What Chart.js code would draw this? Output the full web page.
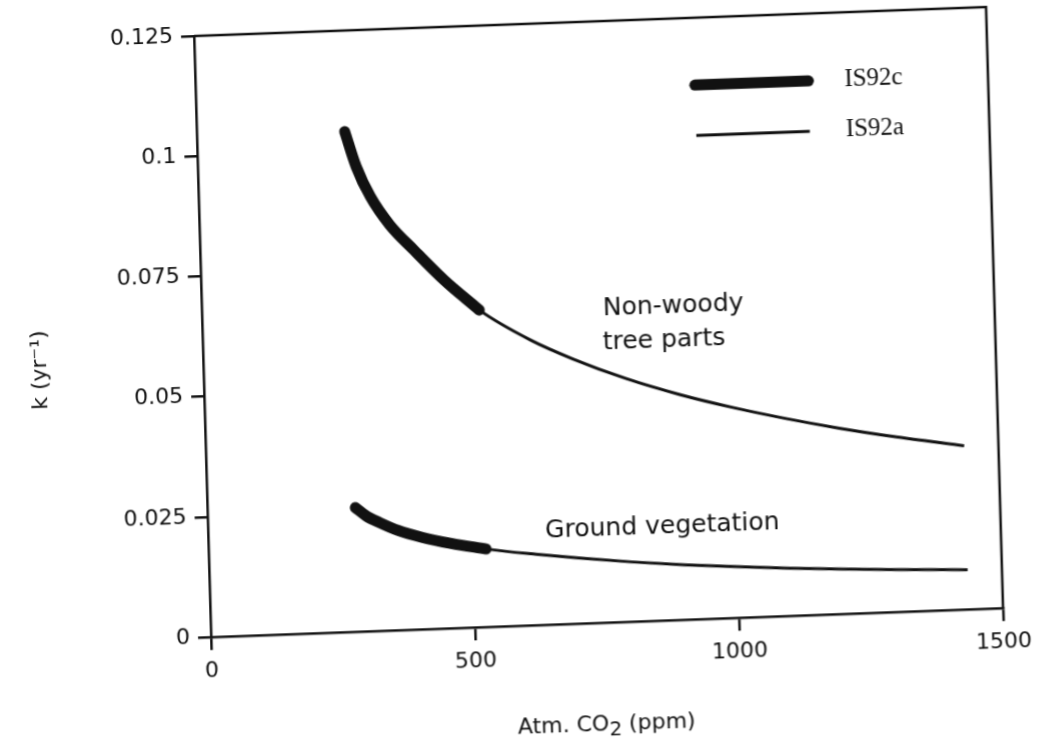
<!DOCTYPE html>
<html>
<head>
<meta charset="utf-8">
<script src="https://cdn.jsdelivr.net/npm/chart.js@4.4.0/dist/chart.umd.min.js"></script>
<style>
  html, body { margin: 0; padding: 0; background: #fff; overflow: hidden; }
  #wrap { position: relative; width: 1041px; height: 746px; overflow: hidden; }
  /* the printed figure sits slightly askew on the page */
  #chart { position: absolute; left: 0; top: 0; transform-origin: 211px 637px; transform: matrix(1, -0.0366, 0.0283, 1, 0, 0); }
</style>
</head>
<body>
<div id="wrap"><canvas id="chart" width="1041" height="800"></canvas></div>
<script>
// atmospheric CO2 (ppm) and decomposition rate k (yr-1)
const co2Ppm = [280, 300, 325, 360, 405, 460, 525, 620, 700, 800, 900, 1000, 1100, 1200, 1300, 1435];
const nonWoodyK = [0.104, 0.0966, 0.0903, 0.0843, 0.0788, 0.0724, 0.0659, 0.0593, 0.0550, 0.0505, 0.0468, 0.0437, 0.0410, 0.0386, 0.0365, 0.0340];
const groundVegK = [0.0258, 0.0240, 0.0225, 0.0207, 0.0191, 0.0176, 0.0162, 0.0147, 0.0136, 0.0124, 0.0114, 0.0106, 0.0099, 0.0093, 0.0088, 0.0082];
// IS92c stops at 525 ppm, IS92a runs the whole range
const is92cPoints = 7;

const xTicks = [0, 500, 1000, 1500];
const xTickLabels = ['0', '500', '1000', '1500'];
const yTicks = [0, 0.025, 0.05, 0.075, 0.1, 0.125];
const yTickLabels = ['0', '0.025', '0.05', '0.075', '0.1', '0.125'];

const ink = '#111';
const sans = '"DejaVu Sans", sans-serif';

function pts(ys, n) {
    return co2Ppm.slice(0, n).map((x, i) => ({ x: x, y: ys[i] }));
}

function thick(data) {
    return { data: data, borderColor: ink, borderWidth: 11, borderCapStyle: 'round', pointRadius: 0, cubicInterpolationMode: 'monotone', fill: false };
}
function thin(data) {
    return { data: data, borderColor: ink, borderWidth: 3, pointRadius: 0, cubicInterpolationMode: 'monotone', fill: false };
}

const figureText = {
    id: 'figureText',
    afterDatasetsDraw(chart) {
        const { ctx, chartArea: a, scales: { x, y } } = chart;
        ctx.save();
        ctx.strokeStyle = ink;
        ctx.fillStyle = ink;

        // top and right edges of the frame
        ctx.lineWidth = 2.5;
        ctx.beginPath();
        ctx.moveTo(a.left, a.top);
        ctx.lineTo(a.right, a.top);
        ctx.lineTo(a.right, a.bottom);
        ctx.stroke();

        // curve labels
        ctx.font = '25px ' + sans;
        ctx.textAlign = 'left';
        ctx.textBaseline = 'middle';
        ctx.fillText('Non-woody', x.getPixelForValue(759), y.getPixelForValue(0.0652));
        ctx.fillText('tree parts', x.getPixelForValue(757), y.getPixelForValue(0.0582));
        ctx.fillText('Ground vegetation', x.getPixelForValue(638), y.getPixelForValue(0.0195));

        // legend
        const legend = [
            { label: 'IS92c', width: 11, y: 0.1110 },
            { label: 'IS92a', width: 3, y: 0.1005 }
        ];
        legend.forEach(item => {
            ctx.lineWidth = item.width;
            ctx.lineCap = item.width > 5 ? 'round' : 'butt';
            ctx.beginPath();
            ctx.moveTo(x.getPixelForValue(945), y.getPixelForValue(item.y));
            ctx.lineTo(x.getPixelForValue(1160), y.getPixelForValue(item.y));
            ctx.stroke();
            ctx.font = '25px "Liberation Serif", serif';
            ctx.fillText(item.label, x.getPixelForValue(1228), y.getPixelForValue(item.y));
        });

        // axis titles
        ctx.font = '22px ' + sans;
        const tx = a.left + 0.496 * (a.right - a.left);
        const ty = a.bottom + 102;
        const w1 = ctx.measureText('Atm. CO').width;
        const w3 = ctx.measureText(' (ppm)').width;
        ctx.font = '20px ' + sans;
        const w2 = ctx.measureText('2').width;
        let left = tx - (w1 + w2 + w3) / 2;
        ctx.textAlign = 'left';
        ctx.font = '22px ' + sans;
        ctx.fillText('Atm. CO', left, ty);
        ctx.font = '20px ' + sans;
        ctx.fillText('2', left + w1, ty + 6);
        ctx.font = '22px ' + sans;
        ctx.fillText(' (ppm)', left + w1 + w2, ty);

        ctx.translate(a.left - 163, a.bottom - 0.454 * (a.bottom - a.top));
        ctx.rotate(-Math.PI / 2);
        ctx.textAlign = 'center';
        ctx.font = '22px ' + sans;
        ctx.fillText('k (yr\u207B\u00B9)', 0, 0);
        ctx.restore();
    }
};

new Chart(document.getElementById('chart'), {
    type: 'line',
    data: {
        datasets: [
            thick(pts(nonWoodyK, is92cPoints)),
            thick(pts(groundVegK, is92cPoints)),
            thin(pts(nonWoodyK, co2Ppm.length)),
            thin(pts(groundVegK, co2Ppm.length))
        ]
    },
    options: {
        responsive: false,
        animation: false,
        layout: { padding: { top: 36, right: 38, left: 0, bottom: 0 } },
        plugins: { legend: { display: false }, tooltip: { enabled: false } },
        scales: {
            x: {
                type: 'linear',
                min: 0,
                max: 1500,
                afterBuildTicks: s => { s.ticks = xTicks.map(v => ({ value: v })); },
                afterFit: s => { s.height = 163; },
                ticks: {
                    callback: v => xTickLabels[xTicks.indexOf(v)],
                    font: { family: sans, size: 22 },
                    color: ink,
                    padding: 8,
                    maxRotation: 0,
                    autoSkip: false
                },
                grid: { drawOnChartArea: false, drawTicks: true, tickLength: 13, color: ink, lineWidth: 2.5 },
                border: { color: ink, width: 2.5 }
            },
            y: {
                min: 0,
                max: 0.125,
                afterBuildTicks: s => { s.ticks = yTicks.map(v => ({ value: v })); },
                afterFit: s => { s.width = 211; },
                ticks: {
                    callback: v => yTickLabels[yTicks.indexOf(v)],
                    font: { family: sans, size: 22 },
                    color: ink,
                    padding: 8
                },
                grid: { drawOnChartArea: false, drawTicks: true, tickLength: 13, color: ink, lineWidth: 2.5 },
                border: { color: ink, width: 2.5 }
            }
        }
    },
    plugins: [figureText]
});
</script>
</body>
</html>
